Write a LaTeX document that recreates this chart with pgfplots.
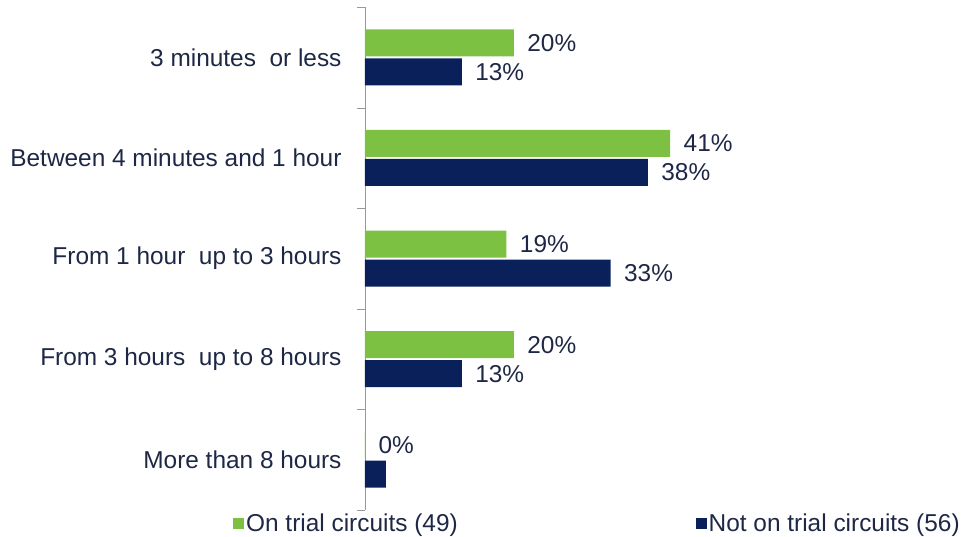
\documentclass[border=0pt]{standalone}
\usepackage{fontspec}
\setmainfont{Liberation Sans}
\usepackage{pgfplots}
\pgfplotsset{compat=1.18}
\definecolor{cgreen}{RGB}{125,193,66}
\definecolor{cnavy}{RGB}{10,32,90}
\definecolor{ctext}{RGB}{30,40,70}
\begin{document}
\begin{tikzpicture}
\useasboundingbox (-365bp,-27bp) rectangle (609bp,510bp);
\begin{axis}[
  at={(0,0)}, anchor=south west,
  scale only axis, width=600bp, height=503bp,
  xbar, bar width=27bp,
  xmin=0, xmax=80.6,
  ymin=-0.5, ymax=4.5, y dir=reverse,
  axis x line=none, axis y line=left,
  axis line style={-, draw=gray!80},
  ytick={0,1,2,3,4},
  yticklabels={3 minutes\ \ or less, Between 4 minutes and 1 hour, From 1 hour\ \ up to 3 hours, From 3 hours\ \ up to 8 hours, More than 8 hours},
  major tick length=0pt,
  minor ytick={-0.5,0.5,1.5,2.5,3.5,4.5},
  minor tick length=8bp, tick align=outside,
  minor tick style={draw=gray!80},
  yticklabel style={font=\fontsize{24.5}{28}\selectfont, text=ctext, xshift=-20bp},
  nodes near coords, point meta=explicit symbolic,
  nodes near coords style={font=\fontsize{24.5}{28}\selectfont, text=ctext, anchor=west, xshift=10bp},
  legend columns=2,
  legend style={at={(axis description cs:-0.225,0)}, anchor=north west, draw=none, fill=none,
    font=\fontsize{24.5}{28}\selectfont, text=ctext,
    /tikz/every even column/.append style={column sep=236bp}},
  legend image code/.code={\fill[#1,draw=none] (0bp,-5.5bp) rectangle (11bp,5.5bp);},
]
\addplot[fill=cgreen, draw=none, bar shift=14.5bp] coordinates {(20,0) [20\%] (41,1) [41\%] (19,2) [19\%] (20,3) [20\%] (0,4) [0\%]};
\addplot[fill=cnavy, draw=none, bar shift=-14.5bp] coordinates {(13,0) [13\%] (38,1) [38\%] (33,2) [33\%] (13,3) [13\%] (2.8,4) [{}]};
\legend{On trial circuits (49), Not on trial circuits (56)}
\end{axis}
\end{tikzpicture}
\end{document}
